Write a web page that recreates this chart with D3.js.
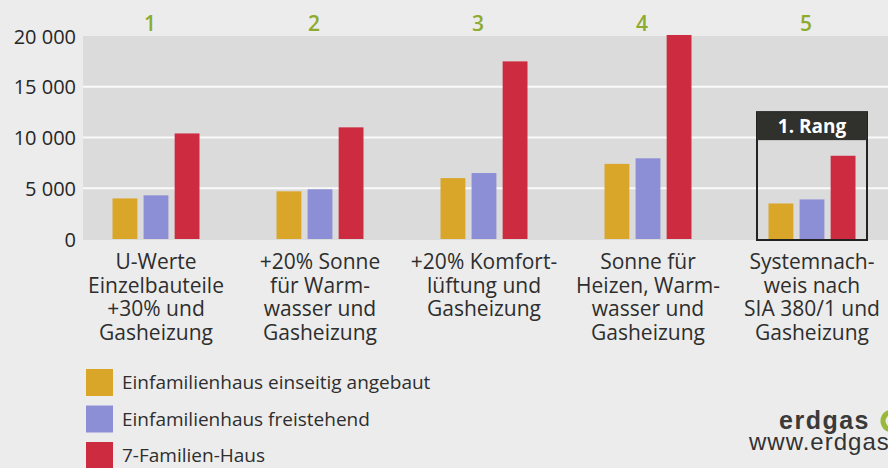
<!DOCTYPE html>
<html>
<head>
<meta charset="utf-8">
<script src="https://cdnjs.cloudflare.com/ajax/libs/d3/7.8.5/d3.min.js"></script>
<style>
  body { margin: 0; background: #ececec; overflow: hidden; }
  svg { display: block; font-family: "Open Sans", sans-serif; }
</style>
</head>
<body>
<script>
// chart data
var ranks = ["1", "2", "3", "4", "5"];
var categories = [
  ["U-Werte", "Einzelbauteile", "+30% und", "Gasheizung"],
  ["+20% Sonne", "für Warm-", "wasser und", "Gasheizung"],
  ["+20% Komfort-", "lüftung und", "Gasheizung"],
  ["Sonne für", "Heizen, Warm-", "wasser und", "Gasheizung"],
  ["Systemnach-", "weis nach", "SIA 380/1 und", "Gasheizung"]
];
var seriesNames = ["Einfamilienhaus einseitig angebaut", "Einfamilienhaus freistehend", "7-Familien-Haus"];
var angebaut = [4000, 4700, 6000, 7400, 3500];
var freistehend = [4300, 4900, 6500, 7950, 3900];
var siebenFamilien = [10400, 11000, 17500, 20100, 8200];
var yTicks = [0, 5000, 10000, 15000, 20000];
var colors = ["#d9a62a", "#8d8fd6", "#cc2b40"];
var bestIndex = 4;
var bestLabel = "1. Rang";

var values = [angebaut, freistehend, siebenFamilien];

var width = 888,
    height = 468;

var svg = d3.select("body").append("svg")
    .attr("width", width)
    .attr("height", height);

//scales
var x = d3.scaleBand()
    .domain(d3.range(ranks.length))
    .range([74, 894]);

var xInner = d3.scaleBand()
    .domain(d3.range(seriesNames.length))
    .range([-43.5, 43.5])
    .paddingInner(0.2);

var y = d3.scaleLinear()
    .domain([0, 20000])
    .range([239, 36]);

// plot background
svg.append("rect")
    .attr("x", 83)
    .attr("y", y(20000))
    .attr("width", width - 83)
    .attr("height", y(0) - y(20000) + 1)
    .attr("fill", "#dcdbdc");

// grid lines
svg.selectAll("line.grid")
    .data(yTicks.filter(function(d) { return d > 0 && d < 20000; }))
  .enter().append("line")
    .attr("class", "grid")
    .attr("x1", 83)
    .attr("x2", width)
    .attr("y1", function(d) { return y(d); })
    .attr("y2", function(d) { return y(d); })
    .attr("stroke", "#fafafa")
    .attr("stroke-width", 2);

// y axis, labels only
var yAxis = d3.axisLeft(y)
    .tickValues(yTicks)
    .tickSize(0)
    .tickPadding(0)
    .tickFormat(function(d) { return d3.format(",")(d).replace(/,/g, " "); });

var yg = svg.append("g")
    .attr("transform", "translate(76,0)")
    .call(yAxis);
yg.select(".domain").remove();
yg.selectAll("text")
    .attr("font-family", "Open Sans")
    .attr("font-size", 20)
    .attr("fill", "#262626")
    .attr("dy", "0.36em");

// box around the winner
var bx = x(bestIndex) + x.bandwidth() / 2;
var box = svg.append("g");
box.append("rect")
    .attr("x", bx - 55)
    .attr("y", y(12500))
    .attr("width", 110)
    .attr("height", y(0) - y(12500) + 1)
    .attr("fill", "none")
    .attr("stroke", "#222")
    .attr("stroke-width", 2);
box.append("rect")
    .attr("x", bx - 55)
    .attr("y", y(12500))
    .attr("width", 110)
    .attr("height", 28)
    .attr("fill", "#30302c");
box.append("text")
    .attr("x", bx)
    .attr("y", y(12500) + 21)
    .attr("text-anchor", "middle")
    .attr("font-weight", "bold")
    .attr("font-size", 19)
    .attr("fill", "#fff")
    .text(bestLabel);

// bars
var groups = svg.selectAll("g.group")
    .data(ranks)
  .enter().append("g")
    .attr("class", "group")
    .attr("transform", function(d, i) { return "translate(" + (x(i) + x.bandwidth() / 2) + ",0)"; });

groups.selectAll("rect")
    .data(function(d, i) { return values.map(function(s) { return s[i]; }); })
  .enter().append("rect")
    .attr("x", function(d, j) { return xInner(j); })
    .attr("width", xInner.bandwidth())
    .attr("y", function(d) { return y(d); })
    .attr("height", function(d) { return y(0) - y(d); })
    .attr("fill", function(d, j) { return colors[j]; });

// green numbers on top
groups.append("text")
    .attr("x", -6)
    .attr("y", 31)
    .attr("text-anchor", "middle")
    .attr("font-size", 21)
    .attr("font-weight", 600)
    .attr("fill", "#8dab2c")
    .text(function(d) { return d; });

// category labels
groups.append("text")
    .attr("text-anchor", "middle")
    .attr("font-size", 21)
    .attr("fill", "#2e2e2e")
  .selectAll("tspan")
    .data(function(d, i) { return categories[i]; })
  .enter().append("tspan")
    .attr("x", 0)
    .attr("y", function(d, k) { return 269 + k * 23.5; })
    .text(function(d) { return d; });

// legend
var legend = svg.selectAll("g.legend")
    .data(seriesNames)
  .enter().append("g")
    .attr("class", "legend")
    .attr("transform", function(d, i) { return "translate(86," + (369 + i * 36.5) + ")"; });

legend.append("rect")
    .attr("width", 27)
    .attr("height", 27)
    .attr("fill", function(d, i) { return colors[i]; });

legend.append("text")
    .attr("x", 36)
    .attr("y", 20)
    .attr("font-size", 19)
    .attr("fill", "#2e2e2e")
    .text(function(d) { return d; });

// logo text bottom right
svg.append("text")
    .attr("x", 779)
    .attr("y", 429)
    .attr("font-family", "Liberation Sans, Arial, sans-serif")
    .attr("font-weight", "bold")
    .attr("font-size", 25)
    .attr("letter-spacing", 1.5)
    .attr("fill", "#3a3a3a")
    .text("erdgas");

svg.append("circle")
    .attr("cx", 892)
    .attr("cy", 421)
    .attr("r", 9)
    .attr("fill", "none")
    .attr("stroke", "#9ab83a")
    .attr("stroke-width", 5);

svg.append("text")
    .attr("x", 749)
    .attr("y", 450)
    .attr("font-family", "Liberation Sans, Arial, sans-serif")
    .attr("font-size", 24)
    .attr("letter-spacing", 1)
    .attr("fill", "#333")
    .text("www.erdgas.ch");
</script>
</body>
</html>
